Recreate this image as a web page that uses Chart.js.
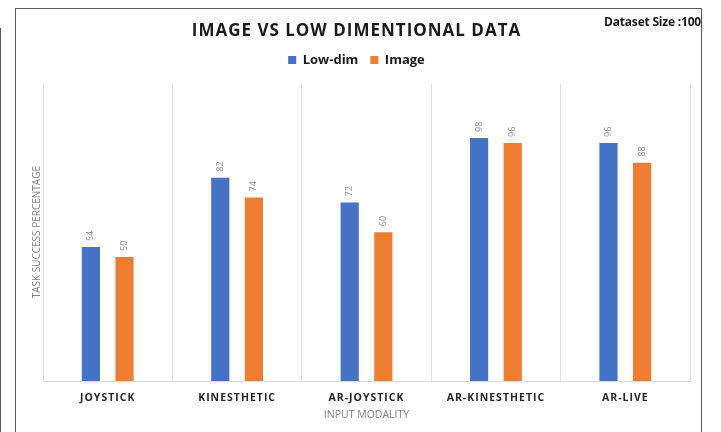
<!DOCTYPE html>
<html>
<head>
<meta charset="utf-8">
<script src="https://cdn.jsdelivr.net/npm/chart.js@4"></script>
<style>
  html, body { margin: 0; padding: 0; background: #fff; }
  #wrap { position: relative; width: 721px; height: 432px; overflow: hidden; }
  #chart { position: absolute; left: 0; top: 0; }
  .frame { position: absolute; left: 15px; top: 8px; width: 685px; height: 440px; border: 1px solid #595959; pointer-events: none; }
  .side { position: absolute; left: 0; top: 28px; height: 420px; border-left: 1px solid #595959; }
  #size { position: absolute; right: 20px; top: 15px; font: bold 12px "Open Sans", sans-serif; line-height: 14px; color: #1a1a1a; letter-spacing: -0.2px; }
</style>
</head>
<body>
<div id="wrap">
  <canvas id="chart" width="721" height="432"></canvas>
  <div class="frame"></div>
  <div class="side"></div>
  <div id="size">Dataset Size :100</div>
</div>
<script>
// chart data
const modalities = ['JOYSTICK', 'KINESTHETIC', 'AR-JOYSTICK', 'AR-KINESTHETIC', 'AR-LIVE'];
const lowDim = [54, 82, 72, 98, 96];
const image = [50, 74, 60, 96, 88];

const blue = '#4472C4';
const orange = '#ED7D31';

// rotated value labels above each bar, letter spacing for title and x tick labels
const valueLabels = {
    id: 'valueLabels',
    afterInit(chart) {
        const tb = chart.titleBlock;
        const draw = tb.draw.bind(tb);
        tb.draw = function () {
            chart.ctx.save();
            chart.ctx.letterSpacing = '1px';
            draw();
            chart.ctx.restore();
        };
        // a bit more room under the legend
        const lg = chart.legend;
        const fit = lg.fit.bind(lg);
        lg.fit = function () {
            fit();
            lg.height += 7;
        };
    },
    afterDatasetsDraw(chart) {
        const ctx = chart.ctx;
        chart.data.datasets.forEach((ds, i) => {
            chart.getDatasetMeta(i).data.forEach((bar, j) => {
                ctx.save();
                ctx.translate(bar.x, bar.y - 6);
                ctx.rotate(-Math.PI / 2);
                ctx.font = '9px "Open Sans", sans-serif';
                ctx.fillStyle = '#8c8c8c';
                ctx.textAlign = 'left';
                ctx.textBaseline = 'middle';
                ctx.fillText(ds.data[j], 0, 0);
                ctx.restore();
            });
        });
        ctx.letterSpacing = '1px';
    },
    afterDraw(chart) {
        chart.ctx.letterSpacing = '0px';
    }
};

const ctx = document.getElementById('chart').getContext('2d');
new Chart(ctx, {
    type: 'bar',
    data: {
        labels: modalities,
        datasets: [{
            label: 'Low-dim',
            data: lowDim,
            backgroundColor: blue,
            categoryPercentage: 0.52,
            barPercentage: 0.54
        }, {
            label: 'Image',
            data: image,
            backgroundColor: orange,
            categoryPercentage: 0.52,
            barPercentage: 0.54
        }]
    },
    options: {
        responsive: false,
        animation: false,
        devicePixelRatio: 1,
        layout: {
            padding: { top: 0, left: 23, right: 31, bottom: 6.5 }
        },
        plugins: {
            title: {
                display: true,
                text: 'IMAGE VS LOW DIMENTIONAL DATA',
                color: '#1a1a1a',
                font: { family: '"Open Sans", sans-serif', size: 17, weight: 'bold' },
                padding: { top: 21, bottom: 0 }
            },
            legend: {
                labels: {
                    boxWidth: 8,
                    boxHeight: 8,
                    color: '#1a1a1a',
                    padding: 12,
                    font: { family: '"Open Sans", sans-serif', size: 13, weight: 'bold' }
                }
            },
            tooltip: { enabled: false }
        },
        scales: {
            x: {
                afterFit(scale) { scale.height = 44.5; },
                grid: { color: '#e0e0e0', drawTicks: false, offset: true },
                border: { color: '#d9d9d9' },
                ticks: {
                    z: 1,
                    padding: 11,
                    color: '#262626',
                    font: { family: '"Open Sans", sans-serif', size: 10.5, weight: 'bold' }
                },
                title: {
                    display: true,
                    text: 'INPUT MODALITY',
                    color: '#7f7f7f',
                    padding: { top: 4, bottom: 4 },
                    font: { family: '"Open Sans", sans-serif', size: 10.5 }
                }
            },
            y: {
                min: 0,
                max: 120,
                grid: { display: false, drawTicks: false },
                border: { display: false },
                ticks: { display: false },
                title: {
                    display: true,
                    text: 'TASK SUCCESS PERCENTAGE',
                    color: '#7f7f7f',
                    padding: { top: 8, bottom: 0 },
                    font: { family: '"Open Sans", sans-serif', size: 10 }
                }
            }
        }
    },
    plugins: [valueLabels]
});
</script>
</body>
</html>
